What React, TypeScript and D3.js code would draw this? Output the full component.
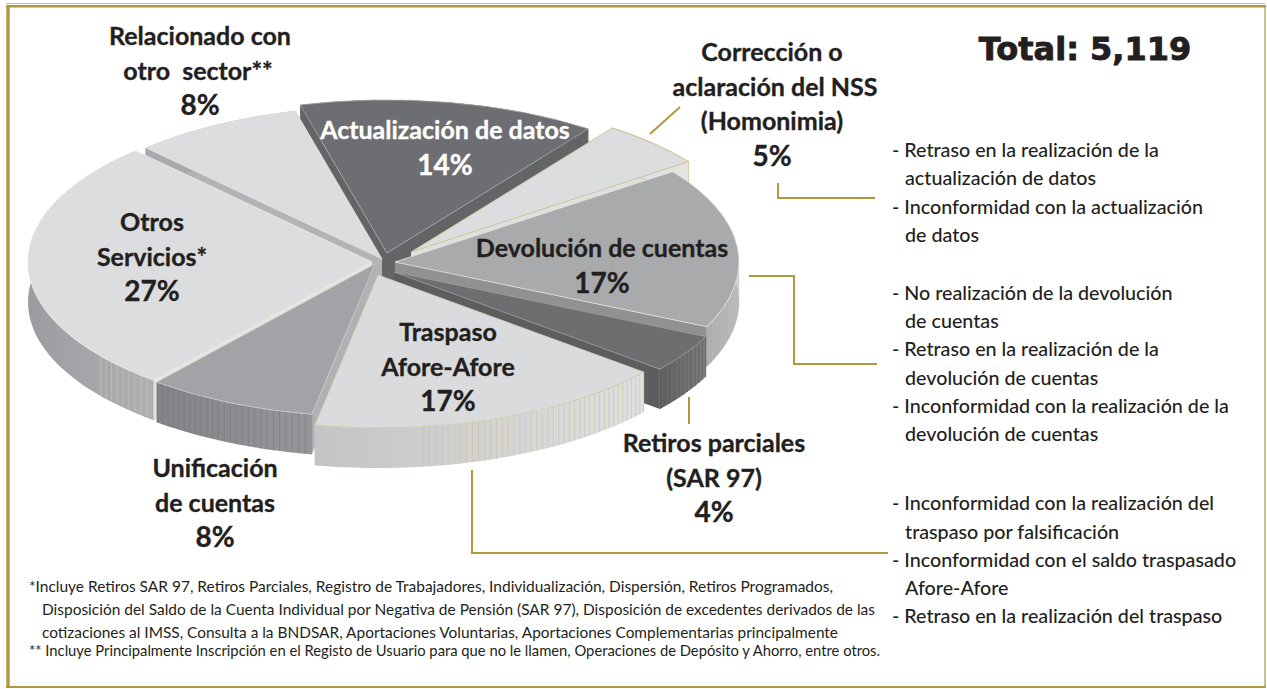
import React from "react";
import * as d3 from "d3";

const categories = ["Otros Servicios", "Relacionado con otro sector", "Actualización de datos", "Corrección o aclaración del NSS", "Devolución de cuentas", "Retiros parciales", "Traspaso Afore-Afore", "Unificación de cuentas"];
const shares = [27, 8, 14, 5, 17, 4, 17, 8];
const totalLabel = "Total: 5,119";

const RX = 344, RY = 153, DEPTH = 40;
const START = (219.4 * Math.PI) / 180;
const apexX = [372, 382, 387, 411, 395, 394, 378, 375];
const apexY = [262, 259, 253, 252, 262, 272, 275, 264];
const topFill = ["#dcddde", "#dcddde", "#6d6e71", "#dcddde", "#a9aaac", "#6d6e70", "#dadbdd", "#a2a3a6"];
const topStroke = ["#e8e8e0", "#dcddde", "#a5a6a8", "#c9bb85", "#e4e4e4", "#a0a1a3", "#cfc89f", "#c9cacc"];
const rimFillA = ["#9a9c9f", "#a7a9ac", "#636466", "#dcddde", "#a0a1a3", "#5f6062", "#c3c4c6", "#838487"];
const rimFillB = ["#aeb0b3", "#a7a9ac", "#636466", "#e4e4e2", "#b6b7b9", "#7d7e80", "#dfe0e1", "#96979a"];
const radialFill = ["#e6e6dc", "#b1b3b5", "#636466", "#dfe0e0", "#8f9193", "#5c5d5f", "#c9cacc", "#b0b1b3"];
const stripeColor = ["#cfc9a6", "none", "none", "none", "#bcbdbf", "#58595b", "#cdc394", "#77787a"];
const stripeStep = [1.4, 0, 0, 0, 1.2, 1.3, 1.05, 1.1];
const stripeSkip = [0.88, 0, 0, 0, 0.62, 0, 0, 0];
const paintOrder = [2, 3, 1, 0, 4, 7, 5, 6];

const labelLines = [
  { t: ["Relacionado con", "otro  sector**", "8%"], x: [200, 198, 200], y: 35, fill: "#231f20" },
  { t: ["Corrección o", "aclaración del NSS", "(Homonimia)", "5%"], x: [772, 775, 772, 772], y: 51, fill: "#231f20" },
  { t: ["Actualización de datos", "14%"], x: [445, 445], y: 129, fill: "#ffffff" },
  { t: ["Devolución de cuentas", "17%"], x: [602, 602], y: 247, fill: "#231f20" },
  { t: ["Otros", "Servicios*", "27%"], x: [152, 152, 152], y: 221, fill: "#231f20" },
  { t: ["Traspaso", "Afore-Afore", "17%"], x: [448, 448, 448], y: 331, fill: "#231f20" },
  { t: ["Unificación", "de cuentas", "8%"], x: [215, 215, 215], y: 467, fill: "#231f20" },
  { t: ["Retiros parciales", "(SAR 97)", "4%"], x: [714, 714, 714], y: 442, fill: "#231f20" },
];

const reasonLines = [
  ["- Retraso en la realización de la", 892, 149], ["actualización de datos", 905, 177],
  ["- Inconformidad con la actualización", 892, 206], ["de datos", 905, 234],
  ["- No realización de la devolución", 892, 292], ["de cuentas", 905, 320],
  ["- Retraso en la realización de la", 892, 348], ["devolución de cuentas", 905, 377],
  ["- Inconformidad con la realización de la", 892, 405], ["devolución de cuentas", 905, 433],
  ["- Inconformidad con la realización del", 892, 502], ["traspaso por falsificación", 905, 531],
  ["- Inconformidad con el saldo traspasado", 892, 559], ["Afore-Afore", 905, 587],
  ["- Retraso en la realización del traspaso", 892, 615],
] as [string, number, number][];

const footnotes = [
  ["*Incluye Retiros SAR 97, Retiros Parciales, Registro de Trabajadores, Individualización, Dispersión, Retiros Programados,", 29, 586, 804],
  ["Disposición del Saldo de la Cuenta Individual por Negativa de Pensión (SAR 97), Disposición de excedentes derivados de las", 42, 609, 833],
  ["cotizaciones al IMSS, Consulta a la BNDSAR, Aportaciones Voluntarias, Aportaciones Complementarias principalmente", 42, 632, 796],
  ["** Incluye Principalmente Inscripción en el Registo de Usuario para que no le llamen, Operaciones de Depósito y Ahorro, entre otros.", 29, 650, 851],
] as [string, number, number, number][];

const leaders = [
  [[650, 134], [680, 107]],
  [[778, 183], [778, 198], [875, 198]],
  [[749, 276], [794, 276], [794, 364], [877, 364]],
  [[689, 397], [689, 424]],
  [[472, 470], [472, 553], [888, 553]],
] as [number, number][][];

const GOLD = "#b0983f";
const FONT = "Lato, 'Noto Sans', sans-serif";

export default function App() {
  const arcs = d3.pie<number>().sort(null).startAngle(START).endAngle(START + 2 * Math.PI)(shares);
  const arc = d3.arc<d3.PieArcDatum<number>>().innerRadius(0).outerRadius(RX);
  const line = d3.line();
  const rim = (i: number, a: number): [number, number] => [apexX[i] + RX * Math.sin(a), apexY[i] - RY * Math.cos(a)];

  return (
    <svg width={1267} height={689} style={{ position: "absolute", left: 0, top: 0, background: "#fff" }}>
      <defs>
        {categories.map((_, i) => (
          <linearGradient key={i} id={`rim${i}`} x1="0" x2="1" y1="0" y2="0">
            <stop offset="0" stopColor={rimFillA[i]} />
            <stop offset="1" stopColor={rimFillB[i]} />
          </linearGradient>
        ))}
      </defs>

      <line x1={6} x2={1265} y1={3.5} y2={3.5} stroke="#cdbf86" strokeWidth={1} />
      <line x1={6} x2={1266} y1={6.2} y2={6.2} stroke={GOLD} strokeWidth={2.6} />
      <line x1={8} x2={8} y1={5} y2={688} stroke={GOLD} strokeWidth={3.4} />
      <line x1={1265} x2={1265} y1={5} y2={688} stroke={GOLD} strokeWidth={1.2} />
      <line x1={6} x2={1266} y1={687} y2={687} stroke={GOLD} strokeWidth={2} />

      {paintOrder.map((i) => {
        const d = arcs[i];
        const n = 48;
        const angles = d3.range(n + 1).map((k) => d.startAngle + ((d.endAngle - d.startAngle) * k) / n);
        const upper = angles.map((a) => rim(i, a));
        const lower = [...upper].reverse().map(([x, y]) => [x, y + DEPTH] as [number, number]);
        const radial = (a: number) => {
          const p = rim(i, a);
          return line([[apexX[i], apexY[i]], p, [p[0], p[1] + DEPTH], [apexX[i], apexY[i] + DEPTH]]) + "Z";
        };
        const stripes =
          stripeStep[i] > 0
            ? d3.range(d.startAngle, d.endAngle, (stripeStep[i] * Math.PI) / 180).filter((a) => {
                const t = (a - d.startAngle) / (d.endAngle - d.startAngle);
                if (i === 0) return t < 0.13;
                if (i === 4) return t > stripeSkip[i];
                if (i === 6) return t < 0.72;
                return true;
              })
            : [];
        return (
          <g key={i}>
            <path d={radial(d.startAngle)} fill={radialFill[i]} />
            <path d={radial(d.endAngle)} fill={radialFill[i]} />
            <path d={line([...upper, ...lower]) + "Z"} fill={`url(#rim${i})`} stroke={i === 3 ? topStroke[3] : "none"} strokeWidth={0.6} />
            {stripes.map((a, k) => {
              const p = rim(i, a);
              return <line key={k} x1={p[0]} x2={p[0]} y1={p[1]} y2={p[1] + DEPTH} stroke={stripeColor[i]} strokeWidth={0.6} />;
            })}
            <path
              d={arc(d) as string}
              transform={`translate(${apexX[i]},${apexY[i]}) scale(1,${RY / RX})`}
              fill={topFill[i]}
              stroke={topStroke[i]}
              strokeWidth={0.8}
              vectorEffect="non-scaling-stroke"
            />
          </g>
        );
      })}

      {leaders.map((l, i) => (
        <path key={i} d={line(l) as string} fill="none" stroke={GOLD} strokeWidth={2} />
      ))}

      <g fontFamily={FONT} fontWeight={700} textAnchor="middle" dominantBaseline="central">
        {labelLines.map((g) =>
          g.t.map((s, k) => (
            <text key={k} x={g.x[k]} y={g.y + k * 34.6} fill={g.fill} stroke={g.fill} strokeWidth={0.35} fontSize={s.endsWith("%") ? 28 : 25} xmlSpace="preserve">
              {s}
            </text>
          ))
        )}
      </g>

      <text x={1085} y={49} textAnchor="middle" dominantBaseline="central" fontFamily="'DejaVu Sans', sans-serif" fontWeight={700} fontSize={32} fill="#231f20" stroke="#231f20" strokeWidth={0.9}>
        {totalLabel}
      </text>

      <g fontFamily={FONT} fontSize={19.7} fontWeight={500} fill="#231f20" dominantBaseline="central">
        {reasonLines.map(([s, x, y], i) => (
          <text key={i} x={x} y={y}>{s}</text>
        ))}
      </g>

      <g fontFamily={FONT} fontSize={15} fill="#231f20" dominantBaseline="central">
        {footnotes.map(([s, x, y, w], i) => (
          <text key={i} x={x} y={y} textLength={w} lengthAdjust="spacingAndGlyphs">{s}</text>
        ))}
      </g>
    </svg>
  );
}
